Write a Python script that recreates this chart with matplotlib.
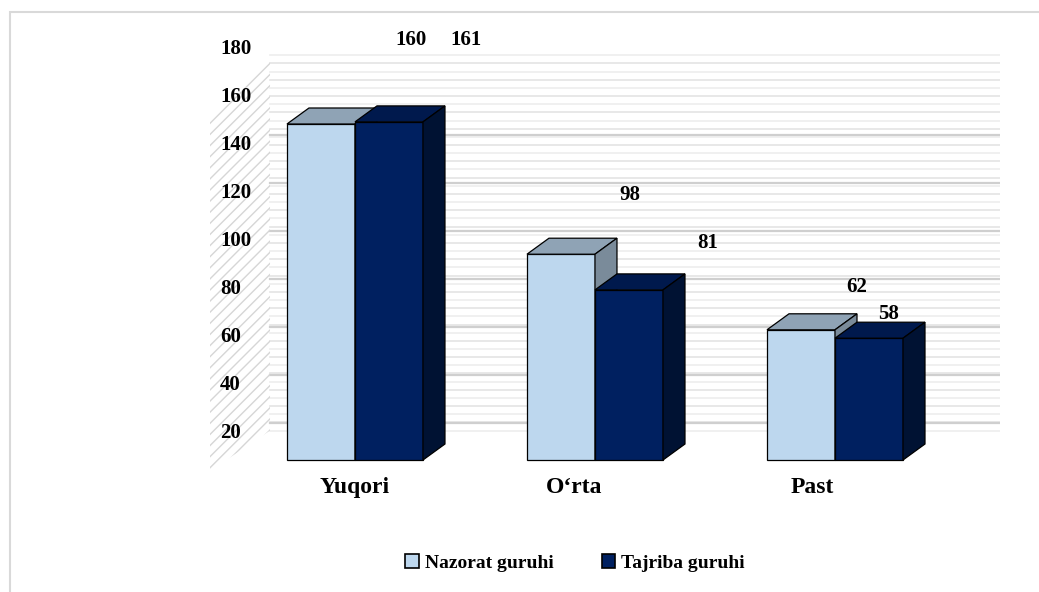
import matplotlib.pyplot as plt
from matplotlib.patches import Polygon, Patch, Rectangle
import matplotlib.transforms as mtransforms
import numpy as np

categories = ["Yuqori", "O\u2018rta", "Past"]
series_names = ["Nazorat guruhi", "Tajriba guruhi"]
nazorat = [160, 98, 62]
tajriba = [161, 81, 58]
y_ticks = [20, 40, 60, 80, 100, 120, 140, 160, 180]

# face colours: front, top, side
colors = [("#BDD7EE", "#8FA3B5", "#7A8B9A"),
          ("#002060", "#00194D", "#001233")]

# where each value label sits relative to its bar top (pixels)
label_offsets = [[(90, 84), (69, 59), (56, 43)],
                 [(77, 82), (79, 47), (20, 24)]]
cat_label_shift = [0, -21, -23]

plt.rcParams['font.family'] = ['Liberation Serif', 'DejaVu Serif']
plt.rcParams['font.weight'] = 'bold'

W, H = 1039, 592
fig = plt.figure(figsize=(W / 100, H / 100), dpi=100)

# outer chart border
fig.patches.append(Rectangle((10 / W, -0.1), 1.2, 1.1 - 12 / H,
                             transform=fig.transFigure, fill=False,
                             edgecolor="#D9D9D9", lw=1.5))

rect = [210 / W, 1 - 480 / H, 790 / W, 440 / H]
ax_back = fig.add_axes(rect)
ax = fig.add_axes(rect)
for a in (ax, ax_back):
    a.set_xlim(-0.604, 2.6875)
    a.axis("off")
ax.patch.set_alpha(0)
ax_back.set_ylim(0.42, 183.75)
ax.set_ylim(-9.52, 200)

# back wall: fine horizontal stripes plus major gridlines
wall_x0 = -0.354
for i, v in enumerate(np.arange(21, 177.5, 3.4)):
    ax_back.plot([wall_x0, 2.6875], [v, v], color="#E4E4E4" if i % 2 else "#EDEDED",
                 lw=1.2, zorder=1)
for v in range(40, 180, 20):
    ax_back.plot([wall_x0, 2.6875], [v - 16, v - 16], color="#CFCFCF", lw=1.6, zorder=1)

# left side wall with diagonal gridlines
side = Polygon([(-0.604, 4.2), (-0.604, 151), (wall_x0, 176.5), (wall_x0, 21)],
               closed=True, facecolor="none", edgecolor="#D6D6D6", lw=0,
               hatch="///", zorder=1)
ax_back.add_patch(side)

# value axis labels
trans = mtransforms.blended_transform_factory(ax_back.transAxes, ax_back.transData)
for v in y_ticks:
    ax_back.text(10 / 790, v, str(v), transform=trans, ha="left", va="center",
                 fontsize=15, fontweight="bold")

# 3D columns
w = 68 / 240
dx = 22 / 240
dy = 16 / 2.1
x = np.arange(len(categories))
for si, vals in enumerate([nazorat, tajriba]):
    front, top, sidec = colors[si]
    xs = x + (si - 0.5) * w
    ax.bar(xs, vals, width=w, color=front, edgecolor="black", lw=0.9, zorder=3 + si)
    for xc, v, off in zip(xs, vals, label_offsets[si]):
        l, r = xc - w / 2, xc + w / 2
        ax.add_patch(Polygon([(l, v), (r, v), (r + dx, v + dy), (l + dx, v + dy)],
                             closed=True, facecolor=top, edgecolor="black",
                             lw=0.9, zorder=3 + si))
        ax.add_patch(Polygon([(r, 0), (r, v), (r + dx, v + dy), (r + dx, dy)],
                             closed=True, facecolor=sidec, edgecolor="black",
                             lw=0.9, zorder=3 + si))
        ax.annotate(str(v), xy=(xc, v), xytext=off, textcoords="offset pixels",
                    ha="center", va="center", fontsize=15, fontweight="bold",
                    zorder=10)

# category labels
for xc, name, sh in zip(x, categories, cat_label_shift):
    ax.annotate(name, xy=(xc, 0), xytext=(sh, -27), textcoords="offset pixels",
                ha="center", va="center", fontsize=17, fontweight="bold")

handles = [Patch(facecolor=colors[i][0], edgecolor="black", lw=1.2, label=n)
           for i, n in enumerate(series_names)]
fig.legend(handles=handles, loc="center", bbox_to_anchor=(575 / W, 1 - 563 / H),
           ncol=2, frameon=False, fontsize=14, handlelength=0.7, handleheight=0.7,
           handletextpad=0.3, columnspacing=2.5)

fig.savefig("out.png", dpi=100)
